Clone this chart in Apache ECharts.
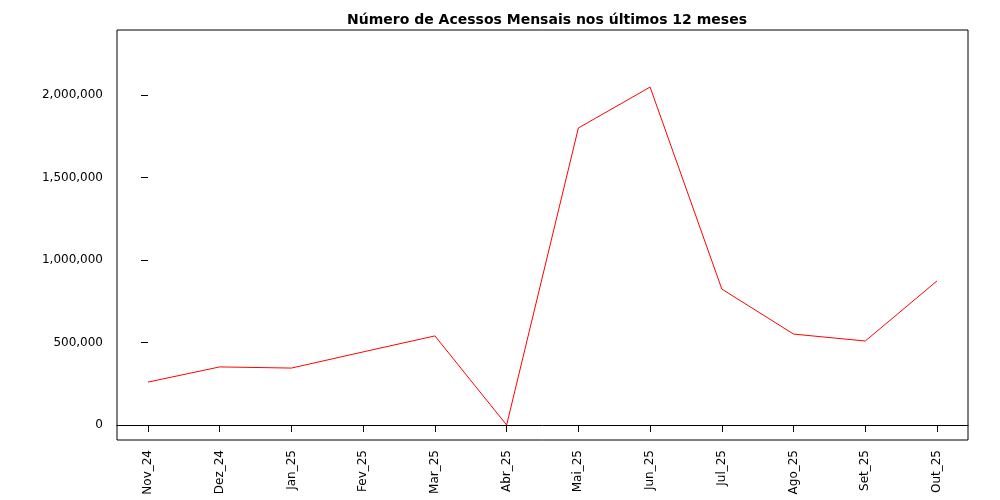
<!DOCTYPE html>
<html>
<head>
<meta charset="utf-8">
<script src="https://cdn.jsdelivr.net/npm/echarts@6/dist/echarts.min.js"></script>
<style>html,body{margin:0;background:#fff}#c{width:1000px;height:500px}</style>
</head>
<body>
<div id="c"></div>
<script>
const months = ['Nov_24', 'Dez_24', 'Jan_25', 'Fev_25', 'Mar_25', 'Abr_25', 'Mai_25', 'Jun_25', 'Jul_25', 'Ago_25', 'Set_25', 'Out_25'];
const acessos = [260000, 352000, 345000, 443000, 540000, 0, 1800000, 2048000, 824000, 551000, 509000, 873000];
const yTicks = [0, 500000, 1000000, 1500000, 2000000];

const chart = echarts.init(document.getElementById('c'));
const idx = months.map((m, i) => i);
const font = { color: '#000', fontFamily: 'DejaVu Sans', fontSize: 12 };

chart.setOption({
  animation: false,
  title: {
    text: 'Número de Acessos Mensais nos últimos 12 meses',
    left: 542, top: 8, textAlign: 'center',
    textStyle: { fontFamily: 'DejaVu Sans', fontSize: 14, fontWeight: 'bold', color: '#000' }
  },
  grid: { left: 117, right: 32, top: 30, bottom: 60, show: true, borderColor: '#000', borderWidth: 1 },
  xAxis: {
    type: 'value', min: -0.432, max: 11.432,
    splitLine: { show: false },
    axisLine: { show: true, lineStyle: { color: '#000' } },
    axisTick: { show: true, length: 7, lineStyle: { color: '#000' }, customValues: idx },
    axisLabel: {
      ...font, rotate: 90, margin: 10, customValues: idx,
      formatter: v => months[Math.round(v)]
    }
  },
  yAxis: {
    type: 'value', min: -90909, max: 2393939,
    splitLine: { show: false },
    axisLine: { show: false },
    axisTick: { show: true, length: 7, lineStyle: { color: '#000' }, customValues: yTicks },
    axisLabel: { ...font, margin: 14, customValues: yTicks }
  },
  series: [{
    type: 'line',
    data: acessos.map((v, i) => [i, v]),
    symbol: 'none',
    lineStyle: { color: '#ff0000', width: 1 }
  }]
});
</script>
</body>
</html>
